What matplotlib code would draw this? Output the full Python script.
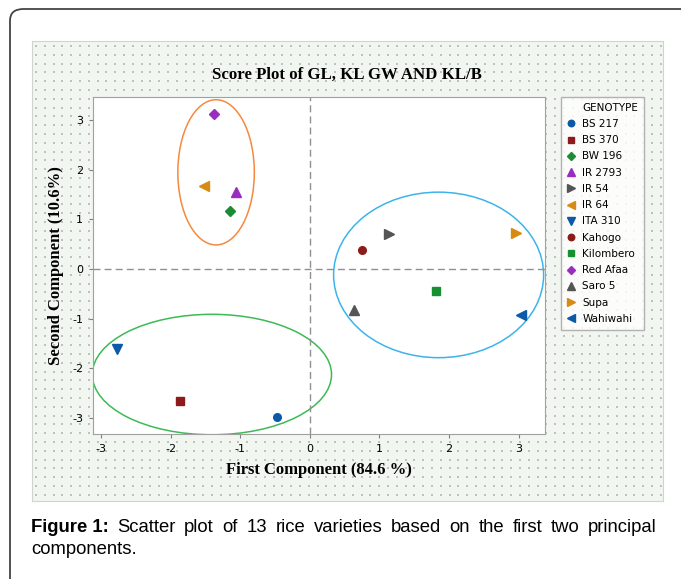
import matplotlib
matplotlib.use('Agg')
import matplotlib.pyplot as plt
import numpy as np
from matplotlib.patches import Ellipse, FancyBboxPatch
from matplotlib.lines import Line2D

plt.rcParams['axes.unicode_minus'] = False

# genotype scores on the first two principal components
genotypes = ['BS 217', 'BS 370', 'BW 196', 'IR 2793', 'IR 54', 'IR 64', 'ITA 310',
             'Kahogo', 'Kilombero', 'Red Afaa', 'Saro 5', 'Supa', 'Wahiwahi']
pc1 = [-0.47, -1.87, -1.15, -1.06, 1.13, -1.53, -2.77, 0.75, 1.81, -1.38, 0.64, 2.97, 3.03]
pc2 = [-2.98, -2.67, 1.16, 1.56, 0.71, 1.68, -1.62, 0.38, -0.45, 3.13, -0.83, 0.72, -0.92]
markers = ['o', 's', 'D', '^', '>', '<', 'v', 'o', 's', 'D', '^', '>', '<']
colors = ['#0b5aa8', '#8e1b1b', '#1d8a35', '#9a2dbf', '#555555', '#d88a12', '#0b5aa8',
          '#8e1b1b', '#179030', '#9a2dbf', '#555555', '#d88a12', '#0b5aa8']

# cluster ellipses: centre x, centre y, width, height, colour
ell_cx = [-1.35, -1.41, 1.85]
ell_cy = [1.95, -2.13, -0.12]
ell_w = [1.10, 3.44, 3.02]
ell_h = [2.93, 2.43, 3.34]
ell_col = ['#f6893d', '#3dba55', '#3cb4ea']

caption_bold = 'Figure 1:'
caption_line1 = 'Scatter plot of 13 rice varieties based on the first two principal'
caption_line2 = 'components.'

W, H = 681, 579
fig = plt.figure(figsize=(W / 100, H / 100), dpi=100)

# outer frame with rounded top-left corner
frame = FancyBboxPatch((10 / W, -0.05), 1.2, 1 - 9 / H + 0.05,
                       boxstyle='round,pad=0,rounding_size=0.02',
                       transform=fig.transFigure, facecolor='white',
                       edgecolor='#444444', lw=1.3, zorder=-5)
fig.patches.append(frame)

# dotted light green panel
panel = fig.add_axes([32 / W, 1 - 501 / H, 631 / W, 460 / H])
panel.set_facecolor('#f1f6f0')
for s in panel.spines.values():
    s.set_color('#d0d4d0')
panel.set_xticks([])
panel.set_yticks([])
panel.set_xlim(0, 631)
panel.set_ylim(460, 0)
gx, gy = np.meshgrid(np.arange(4, 631, 8.8), np.arange(5, 460, 8.8))
panel.scatter(gx.ravel(), gy.ravel(), s=1.2, c='#bcc2bc', marker='s', lw=0)

ax = fig.add_axes([93 / W, 1 - 434 / H, 452 / W, 337.5 / H])
ax.set_xlim(-3.12, 3.38)
ax.set_ylim(-3.33, 3.48)

ax.axvline(0, color='#909090', ls=(0, (5, 3)), lw=1)
ax.axhline(0, color='#909090', ls=(0, (5, 3)), lw=1)

for cx, cy, w, h, c in zip(ell_cx, ell_cy, ell_w, ell_h, ell_col):
    ax.add_patch(Ellipse((cx, cy), w, h, fill=False, edgecolor=c, lw=1.1))

handles = [Line2D([], [], ls='none', label='GENOTYPE')]
for x, y, m, c, g in zip(pc1, pc2, markers, colors, genotypes):
    ms = 5.5 if m in ('o', 's') else 6.5
    if m == 'D':
        ms = 5
    h, = ax.plot(x, y, marker=m, color=c, ms=ms, ls='none', label=g)
    handles.append(h)

ax.set_xticks([-3, -2, -1, 0, 1, 2, 3])
ax.set_yticks([-3, -2, -1, 0, 1, 2, 3])
ax.tick_params(labelsize=8, length=3, color='#808080', pad=4)
for s in ax.spines.values():
    s.set_color('#a0a0a0')

ax.set_xlabel('First Component (84.6 %)', family='Liberation Serif',
              fontweight='bold', fontsize=12, labelpad=6)
ax.set_ylabel('Second Component (10.6%)', family='Liberation Serif',
              fontweight='bold', fontsize=12, labelpad=6)
fig.text(347 / W, 1 - 75 / H, 'Score Plot of GL, KL GW AND KL/B',
         family='Liberation Serif', fontweight='bold', fontsize=12.1,
         ha='center', va='center')

leg = fig.legend(handles=handles, loc='upper left',
                 bbox_to_anchor=(561 / W, 1 - 97 / H), fontsize=7.5,
                 frameon=True, fancybox=False, handlelength=0.8,
                 handletextpad=0.7, labelspacing=0.6, borderpad=0.55,
                 borderaxespad=0, markerscale=0.85)
leg.get_frame().set_edgecolor('#a0a0a0')
leg.get_frame().set_linewidth(1)

# justified caption, first line spans 31..657 px
cap_fs = 13.3
y1 = 1 - 527 / H
words = [(caption_bold, 'bold')] + [(w, 'normal') for w in caption_line1.split()]
texts = [fig.text(0, y1, w, fontsize=cap_fs, family='Liberation Sans',
                  fontweight=fw, va='center') for w, fw in words]
fig.canvas.draw()
r = fig.canvas.get_renderer()
widths = [t.get_window_extent(r).width for t in texts]
gap = (657 - 31 - sum(widths)) / (len(texts) - 1)
x = 31
for t, wd in zip(texts, widths):
    t.set_x(x / W)
    x += wd + gap
fig.text(31 / W, 1 - 549 / H, caption_line2, fontsize=cap_fs,
         family='Liberation Sans', va='center')

fig.savefig('out.png', dpi=100)
